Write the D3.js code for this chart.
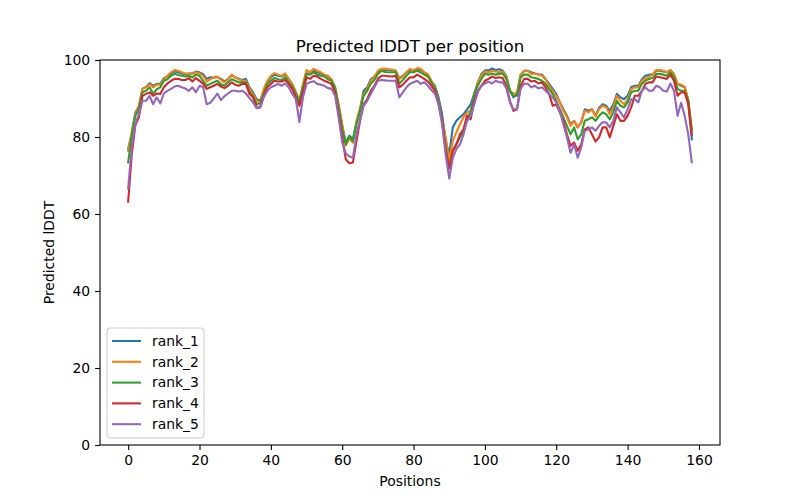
<!DOCTYPE html>
<html>
<head>
<meta charset="utf-8">
<script src="https://cdn.jsdelivr.net/npm/d3@7"></script>
<style>
  body { margin: 0; background: #fff; }
  text { font-family: "DejaVu Sans", sans-serif; fill: #000; }
</style>
</head>
<body>
<div id="chart"></div>
<script>
const seriesNames = ["rank_1", "rank_2", "rank_3", "rank_4", "rank_5"];
const colors = ["#1f77b4", "#ff7f0e", "#2ca02c", "#d62728", "#9467bd"];
const xTicks = [0, 20, 40, 60, 80, 100, 120, 140, 160];
const yTicks = [0, 20, 40, 60, 80, 100];

const rank1 = [76.9, 81.0, 86.3, 88.0, 92.5, 93.0, 94.0, 93.3, 93.8, 93.9,
  95.3, 95.7, 96.5, 97.0, 96.8, 96.5, 96.3, 96.5, 96.5, 97.0,
  96.8, 96.3, 95.1, 95.5, 95.4, 95.6, 95.1, 94.4, 95.1, 96.0,
  95.5, 95.1, 94.8, 95.1, 92.9, 91.6, 89.8, 89.4, 92.0, 94.2,
  95.5, 96.2, 95.9, 95.7, 96.3, 95.1, 93.7, 91.6, 89.4, 93.3,
  97.2, 96.8, 97.3, 96.8, 96.5, 95.9, 95.7, 94.8, 92.4, 88.1,
  82.9, 78.6, 80.3, 79.5, 83.8, 87.2, 92.0, 92.9, 95.0, 95.7,
  96.8, 97.4, 97.5, 97.4, 97.3, 97.2, 95.3, 95.9, 96.8, 97.2,
  97.4, 97.5, 97.5, 96.8, 96.2, 94.4, 93.3, 90.3, 85.9, 79.0,
  75.5, 82.5, 84.2, 85.1, 85.9, 87.2, 88.5, 91.2, 94.2, 96.3,
  97.3, 97.3, 97.8, 97.4, 97.6, 97.2, 95.9, 92.0, 90.3, 91.2,
  96.0, 97.2, 97.2, 96.8, 96.5, 96.3, 96.2, 95.0, 93.8, 92.5,
  91.2, 89.0, 87.2, 85.5, 83.3, 84.2, 82.5, 83.8, 87.2, 86.8,
  87.2, 85.5, 87.6, 88.5, 88.1, 86.8, 88.5, 91.2, 90.3, 89.8,
  90.7, 92.9, 93.3, 93.3, 95.0, 95.9, 96.2, 96.2, 97.2, 97.2,
  97.0, 96.8, 97.4, 96.3, 93.8, 93.3, 92.9, 89.4, 79.4];

const rank2 = [76.4, 81.2, 85.9, 88.1, 92.5, 92.9, 93.7, 92.9, 93.6, 93.6,
  95.0, 95.9, 96.8, 97.4, 97.2, 96.8, 96.5, 96.5, 96.4, 96.8,
  96.5, 95.9, 94.4, 95.0, 95.5, 95.7, 94.8, 94.2, 95.0, 96.2,
  95.5, 95.0, 94.6, 94.6, 92.4, 91.2, 89.4, 89.0, 92.4, 94.6,
  95.9, 96.6, 96.2, 95.9, 96.5, 95.0, 93.7, 91.6, 89.4, 93.7,
  97.4, 96.8, 97.7, 97.2, 96.8, 96.2, 95.9, 95.0, 92.9, 88.5,
  83.3, 77.8, 79.6, 78.5, 84.2, 87.6, 91.2, 92.4, 94.6, 95.5,
  97.2, 97.7, 97.7, 97.6, 97.5, 97.2, 95.0, 95.7, 96.8, 97.7,
  97.2, 97.9, 97.7, 96.8, 96.3, 94.6, 92.9, 89.4, 84.6, 79.9,
  74.0, 79.0, 81.2, 83.3, 85.1, 86.4, 86.8, 90.7, 94.2, 95.9,
  97.0, 96.8, 97.2, 97.0, 96.8, 97.0, 95.7, 92.0, 91.2, 91.6,
  96.2, 97.2, 97.2, 96.4, 96.5, 96.2, 95.9, 95.0, 93.3, 92.0,
  90.7, 89.0, 86.8, 85.1, 82.9, 84.2, 82.5, 83.8, 86.8, 86.4,
  87.2, 85.3, 87.2, 88.1, 87.7, 85.9, 87.7, 90.7, 89.4, 88.5,
  89.8, 92.4, 92.9, 92.9, 94.6, 95.3, 95.7, 96.2, 97.4, 97.4,
  97.2, 96.8, 97.4, 96.2, 93.8, 93.6, 93.1, 89.8, 82.0];

const rank3 = [73.4, 80.3, 85.5, 87.2, 91.6, 92.0, 92.9, 91.2, 92.4, 92.9,
  94.6, 95.0, 95.9, 96.4, 96.1, 95.9, 95.7, 95.9, 95.5, 96.2,
  95.9, 94.6, 93.3, 93.8, 94.2, 94.6, 93.7, 93.3, 94.2, 95.0,
  94.6, 94.2, 94.2, 94.2, 91.6, 90.7, 88.5, 88.7, 91.2, 93.8,
  94.6, 95.3, 95.0, 94.8, 95.5, 94.2, 93.1, 91.2, 89.0, 92.9,
  96.4, 96.2, 96.8, 96.2, 95.9, 95.7, 95.0, 94.6, 92.9, 87.7,
  82.0, 78.1, 80.3, 79.0, 83.3, 86.8, 90.7, 92.0, 93.8, 94.8,
  96.4, 97.2, 96.9, 96.8, 96.8, 96.8, 93.9, 94.8, 95.9, 96.8,
  96.8, 97.2, 96.8, 96.2, 95.7, 94.2, 92.5, 89.4, 84.6, 77.3,
  72.0, 76.4, 78.1, 79.9, 81.6, 85.1, 86.4, 91.2, 93.3, 95.1,
  96.4, 96.2, 96.5, 96.2, 96.4, 96.5, 95.1, 92.0, 90.7, 90.7,
  95.5, 96.2, 96.2, 95.5, 95.3, 95.1, 94.6, 93.8, 92.5, 91.2,
  89.4, 87.2, 85.1, 82.9, 80.7, 82.5, 79.4, 80.7, 84.2, 84.6,
  85.1, 84.2, 85.5, 86.4, 85.9, 84.6, 86.4, 89.4, 88.1, 87.7,
  89.0, 91.6, 92.0, 92.0, 93.8, 94.6, 95.1, 95.3, 96.4, 96.4,
  96.2, 95.9, 96.8, 95.5, 92.5, 92.0, 92.0, 89.4, 81.6];

const rank4 = [63.2, 75.5, 83.0, 85.1, 90.7, 91.2, 91.6, 90.7, 91.3, 91.2,
  92.9, 93.9, 94.6, 95.1, 95.1, 94.8, 94.8, 95.3, 94.4, 95.3,
  94.6, 93.8, 92.5, 92.9, 93.3, 93.8, 93.1, 92.7, 93.3, 94.2,
  93.6, 93.3, 93.8, 93.8, 91.2, 90.3, 87.7, 87.7, 90.7, 92.9,
  93.8, 94.6, 94.4, 94.4, 94.8, 93.8, 92.5, 90.3, 88.1, 91.6,
  95.5, 95.1, 95.9, 95.7, 95.1, 94.6, 94.2, 93.8, 91.6, 85.9,
  79.9, 74.2, 73.2, 73.4, 79.0, 84.2, 88.5, 89.8, 92.0, 93.3,
  95.1, 95.9, 95.9, 95.8, 95.7, 95.9, 92.9, 93.6, 94.6, 95.5,
  95.5, 96.2, 95.7, 95.1, 94.4, 93.3, 92.0, 88.5, 84.2, 76.4,
  71.8, 76.4, 78.1, 80.7, 82.0, 85.5, 84.6, 89.4, 92.0, 93.3,
  94.6, 95.1, 95.7, 95.3, 95.5, 95.3, 93.3, 89.4, 86.8, 87.2,
  93.3, 95.1, 95.1, 94.4, 94.6, 93.9, 94.2, 92.9, 91.2, 88.1,
  88.5, 86.4, 84.2, 80.7, 77.7, 78.6, 76.4, 78.1, 82.0, 82.5,
  80.7, 78.8, 79.9, 82.5, 82.5, 79.9, 82.9, 85.9, 84.2, 84.2,
  85.5, 87.7, 90.7, 90.7, 92.0, 93.8, 94.2, 94.2, 95.7, 95.5,
  95.3, 95.1, 96.2, 94.6, 90.7, 91.6, 91.6, 88.5, 80.5];

const rank5 = [66.6, 77.5, 83.3, 86.0, 89.4, 89.4, 90.7, 88.5, 90.3, 88.7,
  91.3, 92.0, 92.5, 93.1, 93.3, 92.9, 92.6, 92.0, 92.9, 91.6,
  93.3, 92.9, 88.5, 88.9, 90.0, 91.3, 89.6, 90.6, 91.3, 92.0,
  92.0, 91.8, 92.0, 91.3, 90.1, 89.0, 87.5, 87.7, 90.3, 92.0,
  92.9, 93.3, 93.8, 93.3, 93.9, 92.9, 91.2, 89.8, 83.9, 90.3,
  93.8, 94.2, 94.5, 93.8, 93.6, 93.3, 92.7, 92.5, 90.7, 85.1,
  78.6, 75.7, 75.0, 74.6, 80.7, 84.6, 88.1, 89.4, 91.2, 92.9,
  94.6, 94.8, 94.7, 94.6, 94.6, 94.6, 90.3, 91.6, 92.9, 93.8,
  94.2, 94.6, 93.8, 94.2, 93.3, 92.2, 91.2, 88.5, 83.3, 75.5,
  69.2, 74.6, 76.9, 78.1, 80.7, 84.2, 85.5, 88.5, 91.6, 93.3,
  93.9, 94.4, 93.9, 94.6, 94.2, 94.2, 92.7, 89.0, 87.2, 87.2,
  92.5, 93.9, 93.8, 92.9, 93.3, 92.6, 92.9, 92.0, 91.2, 90.3,
  89.0, 86.8, 83.3, 79.9, 75.9, 78.1, 74.6, 77.3, 81.6, 82.0,
  82.5, 81.6, 82.9, 83.8, 83.8, 82.5, 84.2, 87.7, 86.4, 85.1,
  87.2, 89.8, 89.8, 89.0, 92.0, 92.9, 92.0, 92.0, 93.3, 92.9,
  92.0, 91.8, 93.9, 92.0, 85.5, 88.9, 85.5, 80.7, 73.4];

const allSeries = [rank1, rank2, rank3, rank4, rank5];

const width = 800, height = 500;
const margin = { top: 60, right: 80, bottom: 55, left: 100 };
const innerW = width - margin.left - margin.right;
const innerH = height - margin.top - margin.bottom;

const svg = d3.select("#chart").append("svg")
  .attr("width", width)
  .attr("height", height);

const g = svg.append("g")
  .attr("transform", `translate(${margin.left},${margin.top})`);

// matplotlib style 5% margins on x
const n = rank1.length;
const pad = (n - 1) * 0.05;
const x = d3.scaleLinear().domain([-pad, n - 1 + pad]).range([0, innerW]);
const y = d3.scaleLinear().domain([0, 100]).range([innerH, 0]);

const line = d3.line()
  .x((d, i) => x(i))
  .y((d) => y(d));

g.append("defs").append("clipPath").attr("id", "clip")
  .append("rect").attr("width", innerW).attr("height", innerH);

const lines = g.append("g").attr("clip-path", "url(#clip)");
allSeries.forEach((s, k) => {
  lines.append("path")
    .datum(s)
    .attr("fill", "none")
    .attr("stroke", colors[k])
    .attr("stroke-width", 2.1)
    .attr("stroke-linejoin", "round")
    .attr("stroke-linecap", "square")
    .attr("d", line);
});

// axes
const xAxis = g.append("g")
  .attr("transform", `translate(0,${innerH})`)
  .call(d3.axisBottom(x).tickValues(xTicks).tickSize(4.9).tickPadding(4.9).tickFormat(d3.format("d")));
const yAxis = g.append("g")
  .call(d3.axisLeft(y).tickValues(yTicks).tickSize(4.9).tickPadding(4.9).tickFormat(d3.format("d")));

[xAxis, yAxis].forEach((a) => {
  a.select(".domain").remove();
  a.selectAll("line").attr("stroke", "#000").attr("stroke-width", 1.1);
  a.selectAll("text").attr("font-size", "13.9px").attr("font-family", "DejaVu Sans");
});

// frame
g.append("rect")
  .attr("width", innerW)
  .attr("height", innerH)
  .attr("fill", "none")
  .attr("stroke", "#000")
  .attr("stroke-width", 1.1);

// title and labels
svg.append("text")
  .attr("x", margin.left + innerW / 2)
  .attr("y", margin.top - 8.5)
  .attr("text-anchor", "middle")
  .attr("font-size", "16.7px")
  .text("Predicted lDDT per position");

svg.append("text")
  .attr("x", margin.left + innerW / 2)
  .attr("y", 486)
  .attr("text-anchor", "middle")
  .attr("font-size", "13.9px")
  .text("Positions");

svg.append("text")
  .attr("transform", `translate(54,${margin.top + innerH / 2}) rotate(-90)`)
  .attr("text-anchor", "middle")
  .attr("font-size", "13.9px")
  .text("Predicted lDDT");

// legend
const legend = svg.append("g").attr("transform", "translate(107,328)");
legend.append("rect")
  .attr("width", 97)
  .attr("height", 110)
  .attr("rx", 3)
  .attr("fill", "#fff")
  .attr("fill-opacity", 0.8)
  .attr("stroke", "#cccccc");

seriesNames.forEach((name, k) => {
  const row = legend.append("g").attr("transform", `translate(0,${13 + k * 20.8})`);
  row.append("line")
    .attr("x1", 5).attr("x2", 34)
    .attr("stroke", colors[k])
    .attr("stroke-width", 2.1);
  row.append("text")
    .attr("x", 45)
    .attr("dy", "0.35em")
    .attr("font-size", "13.9px")
    .text(name);
});
</script>
</body>
</html>
